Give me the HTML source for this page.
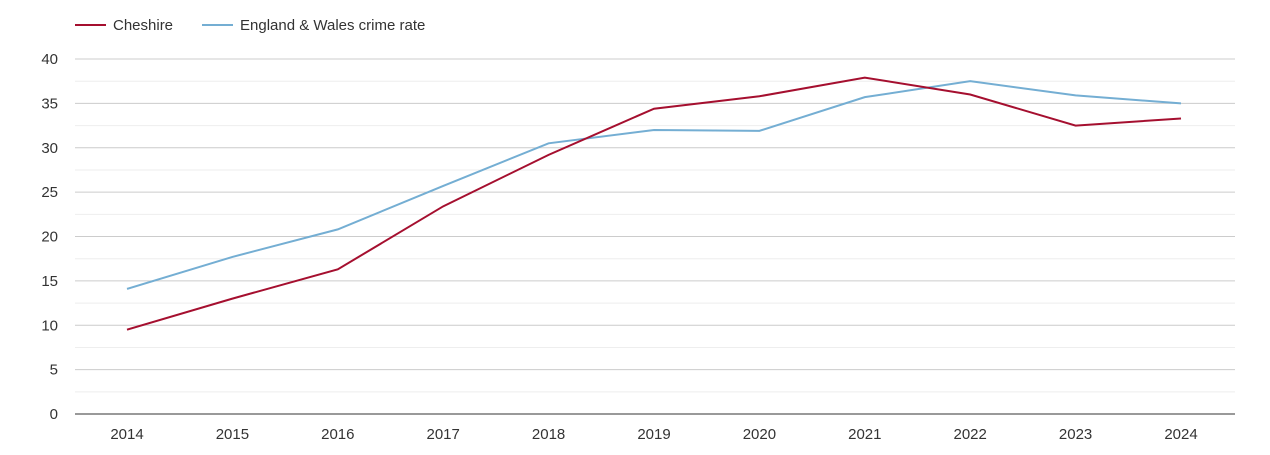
<!DOCTYPE html>
<html><head><meta charset="utf-8"><style>
body{margin:0;background:#fff;font-family:"Liberation Sans",sans-serif;}
</style></head><body>
<svg id="chart" width="1270" height="450" font-family="Liberation Sans, sans-serif">
<g>
<line x1="75" y1="25" x2="106" y2="25" stroke="#a50f2f" stroke-width="2"/>
<text x="113" y="30" font-size="15" fill="#333">Cheshire</text>
<line x1="202" y1="25" x2="233" y2="25" stroke="#74aed3" stroke-width="2"/>
<text x="240" y="30" font-size="15" fill="#333">England &amp; Wales crime rate</text>
</g>
<g id="grid"></g><g id="series"></g>
</svg>
<script>
const years=[2014,2015,2016,2017,2018,2019,2020,2021,2022,2023,2024];
const cheshire=[9.5,13.0,16.3,23.4,29.2,34.4,35.8,37.9,36.0,32.5,33.3];
const englandWales=[14.1,17.7,20.8,25.7,30.5,32.0,31.9,35.7,37.5,35.9,35.0];
const yTicks=[0,5,10,15,20,25,30,35,40];
const NS="http://www.w3.org/2000/svg";
const x0=75,x1=1235,y0=414,yTop=59;
const xs=i=>127+i*(1181-127)/(years.length-1);
const ys=v=>y0-(v/40)*(y0-yTop);
const grid=document.getElementById('grid'),ser=document.getElementById('series');
function mk(t,a,p){const e=document.createElementNS(NS,t);for(const k in a)e.setAttribute(k,a[k]);p.appendChild(e);return e;}
for(let v=2.5;v<40;v+=5){
 const l=mk('line',{x1:x0,x2:x1,y1:ys(v),y2:ys(v),stroke:'#eee'},grid);
 
 
}
yTicks.forEach(v=>{
 if(v>0){const l=mk('line',{x1:x0,x2:x1,y1:ys(v),y2:ys(v),stroke:'#ccc'},grid);
 
 }
 const t=mk('text',{x:58,y:ys(v)+5,'text-anchor':'end','font-size':15,fill:'#333'},grid);
 t.textContent=v;
 
 
});
const ax=mk('line',{x1:x0,x2:x1,y1:y0,y2:y0,stroke:'#333'},grid);


years.forEach((y,i)=>{
 const t=mk('text',{x:xs(i),y:439,'text-anchor':'middle','font-size':15,fill:'#333'},grid);
 t.textContent=y;
 
 
});
function line(d,c,n){
 const p=mk('polyline',{points:d.map((v,i)=>xs(i)+','+ys(v)).join(' '),fill:'none',stroke:c,'stroke-width':2},ser);
 
 
}
line(englandWales,'#74aed3','england-wales-line');
line(cheshire,'#a50f2f','cheshire-line');
</script>
</body></html>
